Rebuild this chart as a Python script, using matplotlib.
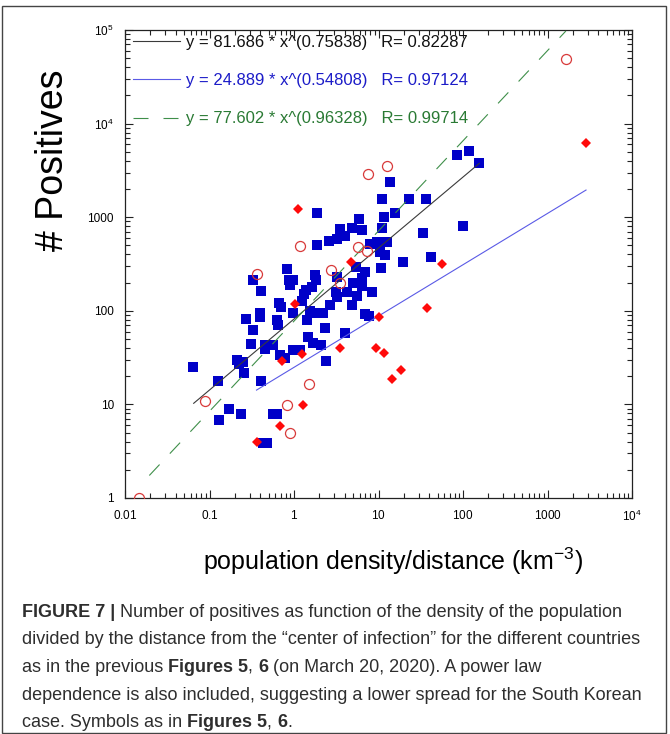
import numpy as np
import matplotlib
matplotlib.use('Agg')
import matplotlib.pyplot as plt
from matplotlib.ticker import LogLocator, NullFormatter, FixedLocator, FixedFormatter
from matplotlib.patches import Rectangle

plt.rcParams['font.family'] = ['Liberation Sans', 'DejaVu Sans']
plt.rcParams['mathtext.fontset'] = 'custom'
plt.rcParams['mathtext.rm'] = 'Liberation Sans'
plt.rcParams['mathtext.it'] = 'Liberation Sans:italic'
plt.rcParams['mathtext.bf'] = 'Liberation Sans:bold'

# синие квадраты
sq_x = [0.064, 0.127, 0.171, 0.131, 0.234, 0.21, 0.225, 0.251, 0.258, 0.268,
        0.31, 0.324, 0.324, 0.404, 0.397, 0.397, 0.406, 0.454, 0.454, 0.569,
        0.434, 0.475, 0.569, 0.624, 0.621, 0.652, 0.67, 0.697, 0.682, 0.782,
        0.821, 0.879, 0.982, 0.898, 0.982, 0.982, 1.19, 1.23, 1.30, 1.39,
        1.62, 1.44, 1.48, 1.66, 2.06, 1.55, 1.82, 2.19, 1.77, 1.82,
        1.89, 1.89, 2.35, 2.36, 2.67, 2.62, 3.25, 3.50, 4.01, 4.82,
        6.32, 5.88, 3.25, 3.14, 3.20, 4.01, 4.24, 4.82, 4.99, 5.42,
        5.52, 6.92, 6.38, 6.38, 8.31, 6.92, 7.72, 8.04, 9.60, 12.6,
        10.4, 11.9, 10.6, 10.9, 11.6, 11.1, 13.7, 15.7, 19.3, 23.0,
        36.5, 33.6, 41.8, 101, 84.2, 118, 156]
sq_y = [25, 18, 8.9, 6.8, 7.8, 30, 27, 28.6, 21.8, 82,
        44, 62, 213, 162, 95, 86, 17.8, 43, 39, 43,
        3.9, 3.9, 7.9, 7.9, 79, 70, 120, 111, 33.5, 31,
        277, 213, 213, 189, 95, 38, 38, 128, 153, 167,
        178, 79, 52, 45, 42.6, 100, 95, 95, 241, 213,
        1100, 505, 65, 29.3, 115, 561, 592, 743, 630, 761,
        721, 964, 228, 159, 142, 57.6, 160, 115, 198, 292,
        143, 258, 222, 184, 160, 93.5, 88, 517, 547, 539,
        425, 395, 287, 776, 1012, 1577, 2377, 1101, 335, 1565,
        1546, 673, 378, 811, 4620, 5097, 3767]

# красные ромбы
dm_x = [1.11, 1.04, 0.728, 1.24, 0.362, 0.682, 1.29, 3.55, 4.73, 9.34,
        11.6, 10.1, 18.3, 14.3, 37.5, 56.4, 2856]
dm_y = [1224, 118, 29.3, 34.5, 3.92, 5.88, 9.8, 40, 335, 39.6,
        35.8, 86.5, 23.4, 18.7, 106, 316, 6252]

# пустые кружки
ci_x = [0.0148, 0.0873, 0.362, 1.18, 0.821, 0.898, 1.51, 2.72, 3.53, 5.67,
        7.25, 7.57, 12.7, 1656]
ci_y = [1.0, 10.9, 250, 496, 9.8, 4.91, 16.7, 273, 196, 484,
        439, 2895, 3524, 49348]

# степенные зависимости: a * x^b, диапазон x
fit_a = [81.686, 24.889, 77.602]
fit_b = [0.75838, 0.54808, 0.96328]
fit_r = [0.82287, 0.97124, 0.99714]
fit_xmin = [0.065, 0.36, 0.0194]
fit_xmax = [156, 2856, 1650]

x_ticks = [0.01, 0.1, 1, 10, 100, 1000, 10000]
x_labels = ['$0.01$', '$0.1$', '$1$', '$10$', '$100$', '$1000$', '$10^{4}$']
y_ticks = [1, 10, 100, 1000, 10000, 100000]
y_labels = ['1', '10', '100', '1000', '$10^{4}$', '$10^{5}$']

fig = plt.figure(figsize=(6.7, 7.34), dpi=100)
W, H = 670, 734
ax = fig.add_axes([125 / W, 1 - 498 / H, 507 / W, 468 / H])

line_cols = ['#3a3a3a', '#5a5ae6', '#3f8f4a']
text_cols = ['#111111', '#1c1cc8', '#2a7a34']
handles = []
for i in range(3):
    xs = np.logspace(np.log10(fit_xmin[i]), np.log10(fit_xmax[i]), 200)
    ys = fit_a[i] * xs ** fit_b[i]
    if i == 2:
        h, = ax.plot(xs, ys, color=line_cols[i], lw=0.8, dashes=(13.5, 13.5), zorder=3)
    else:
        h, = ax.plot(xs, ys, color=line_cols[i], lw=0.8, zorder=3)
    handles.append(h)

ax.plot(sq_x, sq_y, 's', color='#0000c8', markersize=7.3, markeredgewidth=0, zorder=2)
ax.plot(dm_x, dm_y, 'D', color='#ff0a0a', markersize=5.6, markeredgewidth=0, zorder=4)
ax.plot(ci_x, ci_y, 'o', markerfacecolor='none', markeredgecolor='#d83a3a',
        markersize=7.2, markeredgewidth=0.9, zorder=4)

ax.set_xscale('log')
ax.set_yscale('log')
ax.set_xlim(0.01, 10000)
ax.set_ylim(1, 100000)

ax.xaxis.set_major_locator(FixedLocator(x_ticks))
ax.xaxis.set_major_formatter(FixedFormatter(x_labels))
ax.yaxis.set_major_locator(FixedLocator(y_ticks))
ax.yaxis.set_major_formatter(FixedFormatter(y_labels))
for a in (ax.xaxis, ax.yaxis):
    a.set_minor_locator(LogLocator(base=10, subs=np.arange(2, 10), numticks=100))
    a.set_minor_formatter(NullFormatter())

ax.tick_params(which='both', direction='in', top=True, right=True, color='#222222', width=0.8)
ax.tick_params(which='major', length=6, labelsize=8.5)
ax.tick_params(which='minor', length=3.5)
ax.tick_params(axis='x', which='major', pad=8)
ax.tick_params(axis='y', which='major', pad=8)
for s in ax.spines.values():
    s.set_linewidth(0.9)
    s.set_color('#222222')

ax.set_ylabel('# Positives', fontsize=27)
ax.yaxis.set_label_coords(-0.106, 0.722)
ax.set_xlabel('population density/distance (km$^{-3}$)', fontsize=18)
ax.xaxis.set_label_coords(0.529, -0.102)

labels = ['y = %.3f * x^(%.5f)   R= %.5f' % (fit_a[i], fit_b[i], fit_r[i]) for i in range(3)]
leg = ax.legend(handles, labels, loc='upper left', bbox_to_anchor=(0.0158, 0.99),
                borderaxespad=0, borderpad=0, frameon=False, handlelength=2.8,
                handletextpad=0.35, labelspacing=1.4, fontsize=12)
for t, c in zip(leg.get_texts(), text_cols):
    t.set_color(c)

# рамка вокруг рисунка
fig.patches.append(Rectangle((1.5 / W, 1 - 733 / H), 664.5 / W, 727 / H,
                             transform=fig.transFigure, fill=False,
                             edgecolor='#444444', lw=1.0))

# подпись
cap_font = ['Liberation Sans']
cap_fs = 13
cap_col = '#2e2e2e'
renderer = fig.canvas.get_renderer()


def caption_line(y_px, parts):
    x = 22 / W
    for s, w in parts:
        t = fig.text(x, 1 - y_px / H, s, fontsize=cap_fs, fontweight=w,
                     family=cap_font, color=cap_col, va='baseline')
        x += t.get_window_extent(renderer=renderer).width / fig.bbox.width


caption_line(617, [('FIGURE 7 |', 'bold'),
                   (' Number of positives as function of the density of the population', 'normal')])
caption_line(644.5, [('divided by the distance from the \u201ccenter of infection\u201d for the different countries', 'normal')])
caption_line(672, [('as in the previous ', 'normal'), ('Figures 5', 'bold'), (', ', 'normal'),
                   ('6', 'bold'), (' (on March 20, 2020). A power law', 'normal')])
caption_line(699.5, [('dependence is also included, suggesting a lower spread for the South Korean', 'normal')])
caption_line(727, [('case. Symbols as in ', 'normal'), ('Figures 5', 'bold'), (', ', 'normal'),
                   ('6', 'bold'), ('.', 'normal')])

fig.savefig('out.png', dpi=100)
